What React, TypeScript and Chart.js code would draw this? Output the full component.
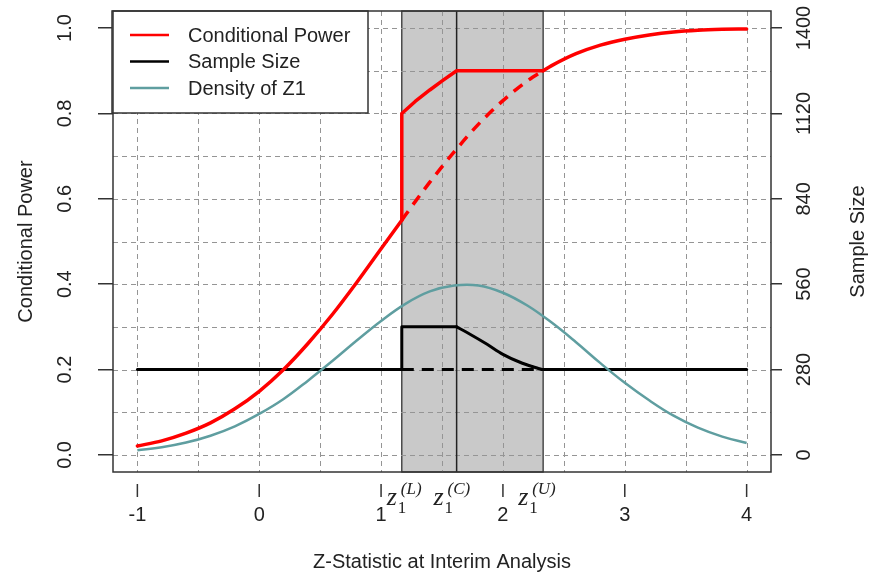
import React, { useEffect, useRef } from "react";
import { Chart, registerables } from "chart.js";

Chart.register(...registerables);

// ---- data ----
const xTicks = [-1, 0, 1, 2, 3, 4];
const leftTicks = [0, 0.2, 0.4, 0.6, 0.8, 1.0];
const rightTicks = [0, 280, 560, 840, 1120, 1400];
const gridX = [-1, -0.5, 0, 0.5, 1, 1.5, 2, 2.5, 3, 3.5, 4];
const gridY = [0, 0.1, 0.2, 0.3, 0.4, 0.5, 0.6, 0.7, 0.8, 0.9, 1.0];

const zL = 1.17;
const zC = 1.62;
const zU = 2.33;
const zLabels = ["(L)", "(C)", "(U)"];

const zDensity = [-1, -0.8, -0.6, -0.4, -0.2, 0, 0.2, 0.4, 0.6, 0.8, 1, 1.2, 1.4, 1.6, 1.8, 2, 2.2, 2.4, 2.6, 2.8, 3, 3.2, 3.4, 3.6, 3.8, 4];
const densityZ1 = [0.011, 0.018, 0.029, 0.045, 0.067, 0.096, 0.131, 0.174, 0.220, 0.268, 0.314, 0.354, 0.383, 0.397, 0.397, 0.380, 0.350, 0.310, 0.264, 0.215, 0.169, 0.128, 0.092, 0.064, 0.043, 0.028];

const zCpLeft = [-1, -0.8, -0.6, -0.4, -0.2, 0, 0.2, 0.4, 0.6, 0.8, 1.0, 1.17];
const cpLeft = [0.021, 0.033, 0.051, 0.075, 0.108, 0.149, 0.200, 0.261, 0.329, 0.404, 0.483, 0.550];

const zCpMid = [1.17, 1.2, 1.4, 1.6, 1.8, 2.0, 2.2, 2.33];
const cpMid = [0.550, 0.562, 0.639, 0.710, 0.775, 0.830, 0.876, 0.900];

const zCpAdj = [1.17, 1.17, 1.28, 1.40, 1.51, 1.62, 2.33];
const cpAdj = [0.550, 0.800, 0.828, 0.855, 0.878, 0.900, 0.900];

const zCpRight = [2.33, 2.4, 2.6, 2.8, 3.0, 3.2, 3.4, 3.6, 3.8, 4.0];
const cpRight = [0.900, 0.912, 0.940, 0.960, 0.974, 0.984, 0.991, 0.995, 0.997, 0.998];

const zSsStep = [-1, 1.17, 1.17, 1.62];
const ssStep = [280, 280, 420, 420];

const zSsCurve = [1.62, 1.73, 1.87, 2.0, 2.14, 2.28, 2.32];
const ssCurve = [420, 396, 363, 330, 304, 285, 280];

const zSsTail = [2.32, 4];
const ssTail = [280, 280];

const zSsDash = [1.17, 2.32];
const ssDash = [280, 280];

const legendLabels = ["Conditional Power", "Sample Size", "Density of Z1"];
const legendColors = ["#ff0000", "#000000", "#5f9ea0"];

const xTitle = "Z-Statistic at Interim Analysis";
const yTitle = "Conditional Power";
const y2Title = "Sample Size";

const pts = (xs: number[], ys: number[]) => xs.map((x, i) => ({ x, y: ys[i] }));

const SANS = "'Liberation Sans', Arial, sans-serif";
const SERIF = "'Liberation Serif', 'Times New Roman', serif";

const decorPlugin = {
  id: "decor",
  beforeDatasetsDraw(chart: any) {
    const { ctx, chartArea: a, scales } = chart;
    const xs = scales.x;
    const ys = scales.y;
    ctx.save();
    const xl = xs.getPixelForValue(zL);
    const xu = xs.getPixelForValue(zU);
    ctx.fillStyle = "#c9c9c9";
    ctx.fillRect(xl, a.top, xu - xl, a.bottom - a.top);
    ctx.strokeStyle = "#333";
    ctx.lineWidth = 1.3;
    ctx.strokeRect(xl, a.top, xu - xl, a.bottom - a.top);

    ctx.setLineDash([5, 4]);
    ctx.strokeStyle = "#959595";
    ctx.lineWidth = 1;
    gridX.forEach((v) => {
      const px = Math.round(xs.getPixelForValue(v)) + 0.5;
      ctx.beginPath();
      ctx.moveTo(px, a.top);
      ctx.lineTo(px, a.bottom);
      ctx.stroke();
    });
    gridY.forEach((v) => {
      const py = Math.round(ys.getPixelForValue(v)) + 0.5;
      ctx.beginPath();
      ctx.moveTo(a.left, py);
      ctx.lineTo(a.right, py);
      ctx.stroke();
    });
    ctx.setLineDash([]);

    const xc = xs.getPixelForValue(zC);
    ctx.strokeStyle = "#222";
    ctx.lineWidth = 1.5;
    ctx.beginPath();
    ctx.moveTo(xc, a.top);
    ctx.lineTo(xc, a.bottom);
    ctx.stroke();
    ctx.restore();
  },
  afterDatasetsDraw(chart: any) {
    const { ctx, chartArea: a, scales, width } = chart;
    const xs = scales.x;
    ctx.save();

    // legend
    const lx = a.left - 1;
    const ly = a.top;
    const lw = 256;
    const lh = 102;
    ctx.fillStyle = "#ffffff";
    ctx.fillRect(lx, ly, lw, lh);
    ctx.strokeStyle = "#333";
    ctx.lineWidth = 1.5;
    ctx.strokeRect(lx, ly, lw, lh);
    ctx.font = `20px ${SANS}`;
    ctx.textBaseline = "middle";
    ctx.textAlign = "left";
    legendLabels.forEach((lab, i) => {
      const yy = ly + 24 + i * 26.5;
      ctx.strokeStyle = legendColors[i];
      ctx.lineWidth = 2.5;
      ctx.beginPath();
      ctx.moveTo(lx + 18, yy);
      ctx.lineTo(lx + 57, yy);
      ctx.stroke();
      ctx.fillStyle = "#222";
      ctx.fillText(lab, lx + 76, yy + 1);
    });

    // plot box
    ctx.strokeStyle = "#333";
    ctx.lineWidth = 1.5;
    ctx.strokeRect(a.left, a.top, a.right - a.left, a.bottom - a.top);

    // x tick marks (detached from the box)
    ctx.lineWidth = 1.5;
    xTicks.forEach((v) => {
      const px = xs.getPixelForValue(v);
      ctx.beginPath();
      ctx.moveTo(px, a.bottom + 12);
      ctx.lineTo(px, a.bottom + 25);
      ctx.stroke();
    });

    // z1 labels
    const zVals = [zL, zC, zU];
    const offs = [3, -5, -7];
    ctx.fillStyle = "#222";
    ctx.textBaseline = "alphabetic";
    zVals.forEach((v, i) => {
      const left = xs.getPixelForValue(v) + offs[i] - 18;
      ctx.font = `italic 26px ${SERIF}`;
      ctx.fillText("z", left, a.bottom + 33);
      ctx.font = `17px ${SERIF}`;
      ctx.fillText("1", left + 11, a.bottom + 41);
      ctx.font = `italic 17px ${SERIF}`;
      ctx.fillText(zLabels[i], left + 14, a.bottom + 22);
    });

    // axis titles
    ctx.fillStyle = "#222";
    ctx.font = `20px ${SANS}`;
    ctx.textAlign = "center";
    ctx.textBaseline = "middle";
    ctx.fillText(xTitle, (a.left + a.right) / 2, 562);
    const cy = (a.top + a.bottom) / 2;
    ctx.save();
    ctx.translate(26, cy);
    ctx.rotate(-Math.PI / 2);
    ctx.fillText(yTitle, 0, 0);
    ctx.restore();
    ctx.save();
    ctx.translate(width - 24, cy);
    ctx.rotate(-Math.PI / 2);
    ctx.fillText(y2Title, 0, 0);
    ctx.restore();

    ctx.restore();
  },
};

export default function App() {
  const ref = useRef<HTMLCanvasElement | null>(null);
  useEffect(() => {
    document.body.style.margin = "0";
    const canvas = ref.current;
    if (!canvas) return;
    const tickFont = { family: SANS, size: 20 };
    const solidBlack = { yAxisID: "y2", borderColor: "#000000", borderWidth: 3, borderJoinStyle: "round", borderCapStyle: "round" };
    const chart = new Chart(canvas, {
      type: "line",
      data: {
        datasets: [
          { data: pts(zDensity, densityZ1), yAxisID: "y", borderColor: "#5f9ea0", borderWidth: 2.5, tension: 0.4 },
          { data: pts(zCpLeft, cpLeft), yAxisID: "y", borderColor: "#ff0000", borderWidth: 3.5, cubicInterpolationMode: "monotone", borderCapStyle: "round" },
          { data: pts(zCpAdj, cpAdj), yAxisID: "y", borderColor: "#ff0000", borderWidth: 3.5, tension: 0, borderJoinStyle: "round", borderCapStyle: "round" },
          { data: pts(zCpRight, cpRight), yAxisID: "y", borderColor: "#ff0000", borderWidth: 3.5, cubicInterpolationMode: "monotone", borderCapStyle: "round" },
          { data: pts(zCpMid, cpMid), yAxisID: "y", borderColor: "#ff0000", borderWidth: 3.5, borderDash: [11, 8], cubicInterpolationMode: "monotone" },
          { data: pts(zSsStep, ssStep), tension: 0, ...solidBlack },
          { data: pts(zSsCurve, ssCurve), cubicInterpolationMode: "monotone", ...solidBlack },
          { data: pts(zSsTail, ssTail), tension: 0, ...solidBlack },
          { data: pts(zSsDash, ssDash), yAxisID: "y2", borderColor: "#000000", borderWidth: 3, borderDash: [12, 8] },
        ] as any,
      },
      options: {
        responsive: false,
        maintainAspectRatio: false,
        animation: false,
        parsing: false as any,
        normalized: true,
        layout: { padding: { top: 11, left: 0, right: 0, bottom: 0 } },
        elements: { point: { radius: 0 }, line: { fill: false } },
        plugins: { legend: { display: false }, tooltip: { enabled: false } },
        scales: {
          x: {
            type: "linear",
            min: -1.2,
            max: 4.2,
            grid: { display: false, drawTicks: false },
            border: { display: false },
            ticks: {
              stepSize: 1,
              includeBounds: false,
              padding: 31,
              font: tickFont,
              color: "#222",
              maxRotation: 0,
              autoSkip: false,
              callback: (v: any) => (xTicks.includes(Number(v)) ? String(v) : ""),
            },
            afterFit: (s: any) => {
              s.height = 106;
              s.paddingLeft = 0;
              s.paddingRight = 0;
            },
          },
          y: {
            type: "linear",
            position: "left",
            min: -0.04,
            max: 1.04,
            grid: { display: true, drawOnChartArea: false, drawTicks: true, tickLength: 15, color: "#333", lineWidth: 1.5 },
            border: { display: false },
            ticks: {
              stepSize: 0.2,
              includeBounds: false,
              padding: 19,
              font: tickFont,
              color: "#222",
              minRotation: 90,
              maxRotation: 90,
              crossAlign: "center",
              autoSkip: false,
              callback: (v: any) => {
                const n = Number(v);
                return leftTicks.some((t) => Math.abs(t - n) < 1e-6) ? n.toFixed(1) : "";
              },
            },
            afterFit: (s: any) => {
              s.width = 113;
              s.paddingTop = 0;
              s.paddingBottom = 0;
            },
          },
          y2: {
            type: "linear",
            position: "right",
            min: -56,
            max: 1456,
            grid: { display: true, drawOnChartArea: false, drawTicks: true, tickLength: 11, color: "#333", lineWidth: 1.5 },
            border: { display: false },
            ticks: {
              stepSize: 280,
              includeBounds: false,
              padding: 0,
              font: tickFont,
              color: "#222",
              minRotation: 90,
              maxRotation: 90,
              crossAlign: "center",
              autoSkip: false,
              callback: (v: any) => (rightTicks.includes(Number(v)) ? String(v) : ""),
            },
            afterFit: (s: any) => {
              s.width = 111;
              s.paddingTop = 0;
              s.paddingBottom = 0;
            },
          },
        },
      } as any,
      plugins: [decorPlugin],
    });
    return () => chart.destroy();
  }, []);
  return <canvas ref={ref} width={882} height={578} style={{ display: "block" }} />;
}
